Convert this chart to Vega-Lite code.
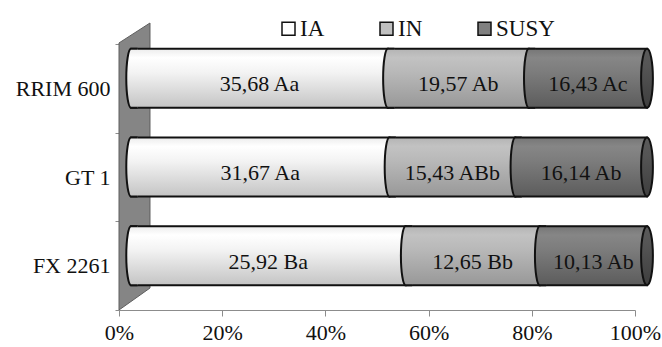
{
  "$schema": "https://vega.github.io/schema/vega-lite/v6.json",
  "width": 516,
  "height": 266,
  "autosize": {"type": "none"},
  "padding": {"left": 119, "top": 44, "right": 27, "bottom": 37},
  "background": "white",
  "config": {
    "view": {"stroke": null},
    "font": "Liberation Serif",
    "axisY": {
      "title": null,
      "grid": false,
      "tickBand": "extent",
      "domainColor": "#8c8c8c",
      "tickColor": "#8c8c8c",
      "tickSize": 4,
      "labelPadding": 5,
      "labelFont": "Liberation Serif",
      "labelFontSize": 22,
      "labelColor": "#111"
    }
  },
  "data": {
    "values": [
      {"variety": "RRIM 600", "series": "IA", "value": 35.68, "label": "35,68 Aa"},
      {"variety": "RRIM 600", "series": "IN", "value": 19.57, "label": "19,57 Ab"},
      {"variety": "RRIM 600", "series": "SUSY", "value": 16.43, "label": "16,43 Ac"},
      {"variety": "GT 1", "series": "IA", "value": 31.67, "label": "31,67 Aa"},
      {"variety": "GT 1", "series": "IN", "value": 15.43, "label": "15,43 ABb"},
      {"variety": "GT 1", "series": "SUSY", "value": 16.14, "label": "16,14 Ab"},
      {"variety": "FX 2261", "series": "IA", "value": 25.92, "label": "25,92 Ba"},
      {"variety": "FX 2261", "series": "IN", "value": 12.65, "label": "12,65 Bb"},
      {"variety": "FX 2261", "series": "SUSY", "value": 10.13, "label": "10,13 Ab"}
    ]
  },
  "transform": [
    {
      "stack": "value",
      "groupby": ["variety"],
      "sort": [{"field": "series", "order": "ascending"}],
      "offset": "normalize",
      "as": ["x0", "x1"]
    },
    {"calculate": "(datum.x0 + datum.x1) / 2", "as": "xmid"}
  ],
  "encoding": {
    "y": {
      "field": "variety",
      "type": "nominal",
      "sort": ["RRIM 600", "GT 1", "FX 2261"],
      "scale": {"paddingInner": 0, "paddingOuter": 0}
    }
  },
  "layer": [
    {
      "transform": [{"filter": "datum.variety == 'GT 1' && datum.series == 'IA'"}],
      "mark": {
        "type": "point",
        "shape": "M-0.108,-0.861L0.108,-1L0.108,0.847L-0.108,1Z",
        "size": 82369,
        "filled": true,
        "fill": "#858585",
        "stroke": "#5e5e5e",
        "strokeWidth": 1,
        "opacity": 1,
        "xOffset": 15.5,
        "yOffset": -10.5
      },
      "encoding": {
        "x": {
          "datum": 0,
          "type": "quantitative",
          "scale": {"domain": [0, 1]},
          "axis": {
            "values": [0, 0.2, 0.4, 0.6, 0.8, 1],
            "format": ".0%",
            "grid": false,
            "title": null,
            "domainColor": "#8c8c8c",
            "tickColor": "#8c8c8c",
            "tickSize": 6,
            "labelPadding": 6,
            "labelFont": "Liberation Serif",
            "labelFontSize": 22,
            "labelColor": "#111",
            "labelFlush": false
          }
        }
      }
    },
    {
      "mark": {"type": "bar", "size": 59, "xOffset": 12, "x2Offset": 12, "yOffset": -10},
      "encoding": {
        "x": {"field": "x0", "type": "quantitative"},
        "x2": {"field": "x1"},
        "fill": {
          "field": "series",
          "type": "nominal",
          "scale": {"domain": ["IA", "IN", "SUSY"], "range": ["#ffffff", "#c0c0c0", "#808080"]},
          "legend": {
            "title": null,
            "orient": "none",
            "legendX": 158,
            "legendY": -27,
            "direction": "horizontal",
            "columns": 3,
            "gridAlign": "all",
            "columnPadding": 16,
            "symbolType": "square",
            "symbolSize": 169,
            "symbolStrokeColor": "#111",
            "symbolStrokeWidth": 1.5,
            "symbolOpacity": 1,
            "labelOffset": 0,
            "labelFont": "Liberation Serif",
            "labelFontSize": 23,
            "labelColor": "#111"
          }
        }
      }
    },
    {
      "transform": [{"filter": "datum.series == 'IA'"}],
      "mark": {
        "type": "bar", "size": 59, "xOffset": 12, "x2Offset": 12, "yOffset": -10,
        "stroke": "#111", "strokeWidth": 2,
        "fill": {"gradient": "linear", "x1": 0, "y1": 0, "x2": 0, "y2": 1,
          "stops": [
            {"offset": 0, "color": "#ececec"},
            {"offset": 0.15, "color": "#ffffff"},
            {"offset": 0.4, "color": "#f3f3f3"},
            {"offset": 1, "color": "#c4c4c4"}
          ]}
      },
      "encoding": {
        "x": {"field": "x0", "type": "quantitative"},
        "x2": {"field": "x1"}
      }
    },
    {
      "transform": [{"filter": "datum.series == 'IN'"}],
      "mark": {
        "type": "bar", "size": 59, "xOffset": 12, "x2Offset": 12, "yOffset": -10,
        "stroke": "#111", "strokeWidth": 2,
        "fill": {"gradient": "linear", "x1": 0, "y1": 0, "x2": 0, "y2": 1,
          "stops": [
            {"offset": 0, "color": "#b4b4b4"},
            {"offset": 0.15, "color": "#c2c2c2"},
            {"offset": 0.4, "color": "#b8b8b8"},
            {"offset": 1, "color": "#989898"}
          ]}
      },
      "encoding": {
        "x": {"field": "x0", "type": "quantitative"},
        "x2": {"field": "x1"}
      }
    },
    {
      "transform": [{"filter": "datum.series == 'SUSY'"}],
      "mark": {
        "type": "bar", "size": 59, "xOffset": 12, "x2Offset": 12, "yOffset": -10,
        "stroke": "#111", "strokeWidth": 2,
        "fill": {"gradient": "linear", "x1": 0, "y1": 0, "x2": 0, "y2": 1,
          "stops": [
            {"offset": 0, "color": "#767676"},
            {"offset": 0.15, "color": "#868686"},
            {"offset": 0.4, "color": "#7c7c7c"},
            {"offset": 1, "color": "#5c5c5c"}
          ]}
      },
      "encoding": {
        "x": {"field": "x0", "type": "quantitative"},
        "x2": {"field": "x1"}
      }
    },
    {
      "transform": [{"filter": "datum.series == 'IA'"}],
      "mark": {
        "type": "point",
        "shape": "M0.22,-1L0,-1A0.16,1 0 0 0 0,1L0.22,1",
        "size": 3481, "filled": true, "opacity": 1,
        "stroke": "#111", "strokeWidth": 2,
        "xOffset": 12, "yOffset": -10,
        "fill": {"gradient": "linear", "x1": 0, "y1": 0, "x2": 0, "y2": 1,
          "stops": [
            {"offset": 0, "color": "#ececec"},
            {"offset": 0.15, "color": "#ffffff"},
            {"offset": 0.4, "color": "#f3f3f3"},
            {"offset": 1, "color": "#c4c4c4"}
          ]}
      },
      "encoding": {"x": {"field": "x0", "type": "quantitative"}}
    },
    {
      "transform": [{"filter": "datum.series == 'IN'"}],
      "mark": {
        "type": "point",
        "shape": "M0.22,-1L0,-1A0.16,1 0 0 0 0,1L0.22,1",
        "size": 3481, "filled": true, "opacity": 1,
        "stroke": "#111", "strokeWidth": 2,
        "xOffset": 12, "yOffset": -10,
        "fill": {"gradient": "linear", "x1": 0, "y1": 0, "x2": 0, "y2": 1,
          "stops": [
            {"offset": 0, "color": "#b4b4b4"},
            {"offset": 0.15, "color": "#c2c2c2"},
            {"offset": 0.4, "color": "#b8b8b8"},
            {"offset": 1, "color": "#989898"}
          ]}
      },
      "encoding": {"x": {"field": "x0", "type": "quantitative"}}
    },
    {
      "transform": [{"filter": "datum.series == 'SUSY'"}],
      "mark": {
        "type": "point",
        "shape": "M0.22,-1L0,-1A0.16,1 0 0 0 0,1L0.22,1",
        "size": 3481, "filled": true, "opacity": 1,
        "stroke": "#111", "strokeWidth": 2,
        "xOffset": 12, "yOffset": -10,
        "fill": {"gradient": "linear", "x1": 0, "y1": 0, "x2": 0, "y2": 1,
          "stops": [
            {"offset": 0, "color": "#767676"},
            {"offset": 0.15, "color": "#868686"},
            {"offset": 0.4, "color": "#7c7c7c"},
            {"offset": 1, "color": "#5c5c5c"}
          ]}
      },
      "encoding": {"x": {"field": "x0", "type": "quantitative"}}
    },
    {
      "transform": [{"filter": "datum.series == 'SUSY'"}],
      "mark": {
        "type": "point",
        "shape": "M0,-1A0.2,1 0 1 0 0,1A0.2,1 0 1 0 0,-1Z",
        "size": 3481, "filled": true, "opacity": 1,
        "stroke": "#111", "strokeWidth": 2,
        "xOffset": 12, "yOffset": -10,
        "fill": {"gradient": "linear", "x1": 0, "y1": 0, "x2": 0, "y2": 1,
          "stops": [
            {"offset": 0, "color": "#5a5a5a"},
            {"offset": 0.3, "color": "#555555"},
            {"offset": 1, "color": "#3e3e3e"}
          ]}
      },
      "encoding": {"x": {"field": "x1", "type": "quantitative"}}
    },
    {
      "mark": {
        "type": "text",
        "font": "Liberation Serif",
        "fontSize": 22,
        "color": "#111",
        "xOffset": 12,
        "yOffset": -10,
        "dy": 6
      },
      "encoding": {
        "x": {"field": "xmid", "type": "quantitative"},
        "text": {"field": "label"}
      }
    }
  ]
}
